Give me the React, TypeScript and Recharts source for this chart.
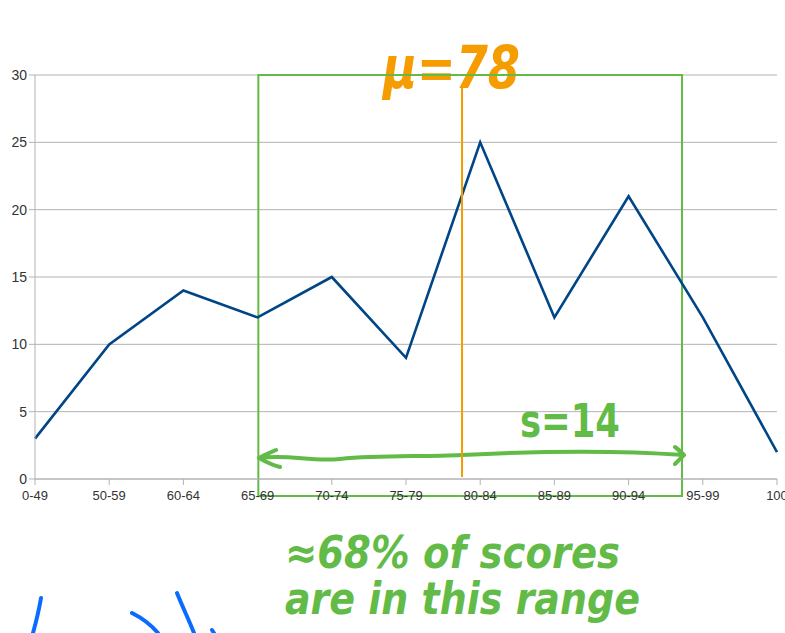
import {
  LineChart,
  Line,
  XAxis,
  YAxis,
  CartesianGrid,
  ReferenceArea,
  ReferenceLine,
  Customized,
} from 'recharts';

const categories = ['0-49', '50-59', '60-64', '65-69', '70-74', '75-79', '80-84', '85-89', '90-94', '95-99', '100'];
const counts = [3, 10, 14, 12, 15, 9, 25, 12, 21, 12, 2];
const yTicks = [0, 5, 10, 15, 20, 25, 30];

// annotation positions in category-index units
const boxFrom = 3.01;
const boxTo = 8.72;
const mean = 5.755;

const data = categories.map((c, i) => ({ idx: i, label: c, count: counts[i] }));

const GREEN = '#62bb47';
const ORANGE = '#f59d00';
const BLUE = '#0a6cff';
const hand = '"DejaVu Sans Condensed", "DejaVu Sans", sans-serif';

// hand-drawn bits on top of the chart
function Scribbles() {
  return (
    <g>
      <text x={383} y={88} fill={ORANGE} fontFamily={hand} fontSize={58} fontStyle="italic" fontWeight="bold"
        textLength={137} lengthAdjust="spacingAndGlyphs">μ=78</text>
      <path d="M259,458 C268,453 272,452 276,450 M259,458 C266,462 272,465 280,467 M259,458 C290,454 310,462 340,459 C380,455 420,457 462,455 C520,452 600,449 684,455 M684,455 C680,451 678,449 675,447 M684,455 C680,459 678,461 675,464"
        stroke={GREEN} strokeWidth={4} fill="none" strokeLinecap="round" />
      <text x={520} y={437} fill={GREEN} fontFamily={hand} fontSize={46} fontWeight="bold"
        textLength={100} lengthAdjust="spacingAndGlyphs">s=14</text>
      <text x={285} y={568} fill={GREEN} fontFamily={hand} fontSize={44} fontStyle="italic" fontWeight="bold"
        textLength={335} lengthAdjust="spacingAndGlyphs">≈68% of scores</text>
      <text x={285} y={614} fill={GREEN} fontFamily={hand} fontSize={44} fontStyle="italic" fontWeight="bold"
        textLength={355} lengthAdjust="spacingAndGlyphs">are in this range</text>
      <path d="M41,598 C39,610 36,622 33,633 M132,613 C142,618 152,626 158,633 M177,593 C183,608 189,620 194,633 M212,630 L214,633"
        stroke={BLUE} strokeWidth={4} fill="none" strokeLinecap="round" />
    </g>
  );
}

export default function App() {
  return (
    <div style={{ position: 'absolute', left: 0, top: 0, width: 785, height: 633, background: '#fff' }}>
      <LineChart width={785} height={633} data={data}
        margin={{ top: 75, right: 8, bottom: 124, left: 0 }}>
        <CartesianGrid vertical={false} stroke="#b3b3b3" />
        <XAxis
          dataKey="idx"
          type="number"
          domain={[0, 10]}
          ticks={data.map(d => d.idx)}
          tickFormatter={(v: number) => categories[v]}
          interval={0}
          stroke="#b3b3b3"
          tickSize={6}
          tickMargin={6}
          tick={{ fill: '#333', fontSize: 13, fontFamily: '"Liberation Sans", Arial, sans-serif' }}
          height={30}
        />
        <YAxis
          domain={[0, 30]}
          ticks={yTicks}
          width={35}
          stroke="#b3b3b3"
          tickSize={6}
          tick={{ fill: '#333', fontSize: 14, fontFamily: '"Liberation Sans", Arial, sans-serif' }}
        />
        <Line
          type="linear"
          dataKey="count"
          stroke="#004586"
          strokeWidth={2.6}
          dot={false}
          isAnimationActive={false}
        />
        <ReferenceArea x1={boxFrom} x2={boxTo} y1={-1.26} y2={30} ifOverflow="visible"
          fill="none" fillOpacity={0} stroke={GREEN} strokeWidth={2} />
        <ReferenceLine segment={[{ x: mean, y: 0.15 }, { x: mean, y: 29.3 }]} ifOverflow="visible"
          stroke={ORANGE} strokeWidth={2} />
        <Customized component={Scribbles} />
      </LineChart>
    </div>
  );
}
